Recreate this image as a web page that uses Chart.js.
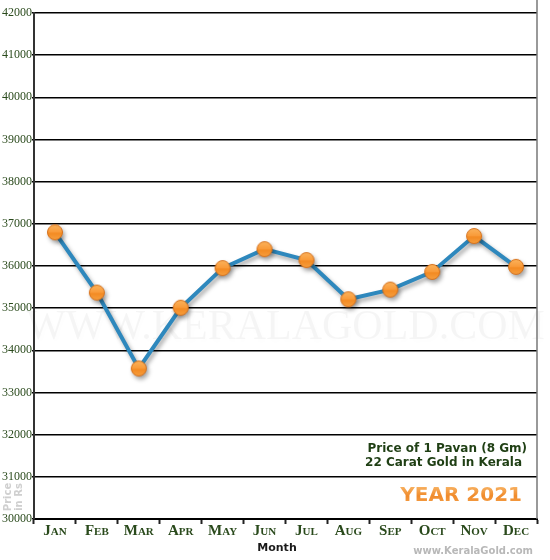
<!DOCTYPE html>
<html>
<head>
<meta charset="utf-8">
<script src="https://cdn.jsdelivr.net/npm/chart.js@4.4.1/dist/chart.umd.min.js"></script>
<style>
  html, body { margin: 0; padding: 0; background: #fff; }
  #wrap { width: 550px; height: 560px; position: relative; }
</style>
</head>
<body>
<div id="wrap"><canvas id="goldChart"></canvas></div>
<script>
// monthly price of 1 pavan, 22 carat, Kerala 2021
const months = ["Jan", "Feb", "Mar", "Apr", "May", "Jun", "Jul", "Aug", "Sep", "Oct", "Nov", "Dec"];
const prices = [36800, 35370, 33570, 35010, 35950, 36400, 36140, 35210, 35440, 35860, 36710, 35980];
const yMin = 30000;
const yMax = 42000;
const yStep = 1000;

const green = "#2a4a1c";

// orange ball marker
function makeMarker() {
  const c = document.createElement("canvas");
  c.width = 18;
  c.height = 18;
  const g = c.getContext("2d");
  const grad = g.createLinearGradient(0, 1, 0, 17);
  grad.addColorStop(0, "#fbb45e");
  grad.addColorStop(0.5, "#f99a38");
  grad.addColorStop(0.55, "#f38a22");
  grad.addColorStop(1, "#f6a040");
  g.beginPath();
  g.arc(9, 9, 7.5, 0, Math.PI * 2);
  g.fillStyle = grad;
  g.fill();
  g.lineWidth = 1;
  g.strokeStyle = "#d6701a";
  g.stroke();
  return c;
}

// shadow under line and markers
const shadowPlugin = {
  id: "shadow",
  beforeDatasetsDraw(chart) {
    const ctx = chart.ctx;
    ctx.save();
    ctx.shadowColor = "rgba(0,0,0,0.35)";
    ctx.shadowBlur = 4;
    ctx.shadowOffsetX = 2;
    ctx.shadowOffsetY = 3;
  },
  afterDatasetsDraw(chart) {
    chart.ctx.restore();
  }
};

// text overlays: watermark, captions, axis titles, month labels
const decorPlugin = {
  id: "decor",
  beforeDatasetsDraw(chart) {
    const { ctx, chartArea } = chart;
    ctx.save();
    ctx.font = "42px 'Liberation Serif', serif";
    ctx.fillStyle = "rgba(0,0,0,0.04)";
    ctx.textAlign = "center";
    ctx.textBaseline = "middle";
    ctx.fillText("WWW.KERALAGOLD.COM", (chartArea.left + chartArea.right) / 2, 328);
    ctx.restore();
  },
  afterDraw(chart) {
    const { ctx, chartArea } = chart;
    const xs = chart.scales.x;
    ctx.save();
    // right border
    ctx.strokeStyle = "#777";
    ctx.lineWidth = 1.5;
    ctx.beginPath();
    ctx.moveTo(chartArea.right, 0);
    ctx.lineTo(chartArea.right, chartArea.bottom);
    ctx.stroke();

    // month labels in small caps
    ctx.textAlign = "center";
    ctx.textBaseline = "middle";
    ctx.fillStyle = green;
    ctx.font = "bold 15px 'Liberation Serif', serif";
    ctx.fontVariantCaps = "small-caps";
    months.forEach((m, i) => {
      ctx.fillText(m, xs.getPixelForTick(i), 531);
    });
    ctx.fontVariantCaps = "normal";

    ctx.textAlign = "right";
    ctx.fillStyle = "#1f3f14";
    ctx.font = "bold 12px Verdana, 'DejaVu Sans', sans-serif";
    ctx.fillText("Price of 1 Pavan (8 Gm)", 527, 449);
    ctx.fillText("22 Carat Gold in Kerala", 522, 463);

    const grad = ctx.createLinearGradient(0, 487, 0, 505);
    grad.addColorStop(0, "#f7b060");
    grad.addColorStop(0.5, "#f08a2a");
    grad.addColorStop(1, "#f4a24c");
    ctx.fillStyle = grad;
    ctx.font = "bold 20px Verdana, 'DejaVu Sans', sans-serif";
    ctx.fillText("YEAR 2021", 522, 496);

    ctx.textAlign = "center";
    ctx.fillStyle = "#1a1a1a";
    ctx.font = "bold 11px Verdana, 'DejaVu Sans', sans-serif";
    ctx.fillText("Month", 277, 548);

    ctx.textAlign = "right";
    ctx.fillStyle = "#b8b8b8";
    ctx.font = "bold 10px Verdana, 'DejaVu Sans', sans-serif";
    ctx.fillText("www.KeralaGold.com", 533, 551);

    ctx.translate(10, 497);
    ctx.rotate(-Math.PI / 2);
    ctx.textAlign = "center";
    ctx.fillStyle = "#cfcfcf";
    ctx.font = "bold 10px Verdana, 'DejaVu Sans', sans-serif";
    ctx.fillText("Price", 0, -2);
    ctx.fillText("in Rs", 0, 9);
    ctx.restore();
  }
};

const goldChart = new Chart(document.getElementById("goldChart"), {
  type: "line",
  data: {
    labels: months,
    datasets: [
      {
        label: "Price",
        data: prices,
        borderColor: "#2e88bd",
        borderWidth: 4,
        tension: 0,
        pointStyle: makeMarker(),
        pointRadius: 8,
        pointHoverRadius: 8,
      },
    ],
  },
  options: {
    responsive: true,
    maintainAspectRatio: false,
    animation: false,
    layout: { padding: { top: 13, right: 13, left: 0, bottom: 0 } },
    plugins: {
      legend: { display: false },
      tooltip: { enabled: false },
    },
    scales: {
      x: {
        offset: true,
        grid: {
          drawOnChartArea: false,
          drawTicks: true,
          tickLength: 5,
          tickWidth: 2,
          tickColor: "#222",
          offset: true,
        },
        border: { color: "#000", width: 2 },
        ticks: {
          color: "rgba(0,0,0,0)",
          padding: 2,
          font: { family: "'Liberation Serif', serif", size: 15, weight: "bold" },
        },
        afterFit(scale) { scale.height = 41; },
      },
      y: {
        min: yMin,
        max: yMax,
        grid: {
          color: "#000",
          lineWidth: 1.5,
          drawTicks: true,
          tickLength: 2,
          tickColor: "#000",
        },
        border: { color: "#333", width: 2 },
        ticks: {
          stepSize: yStep,
          color: green,
          padding: 0,
          font: { family: "'Liberation Serif', serif", size: 12 },
          callback: (v) => String(v),
        },
        afterFit(scale) { scale.width = 34; },
      },
    },
  },
  plugins: [shadowPlugin, decorPlugin],
});
</script>
</body>
</html>
